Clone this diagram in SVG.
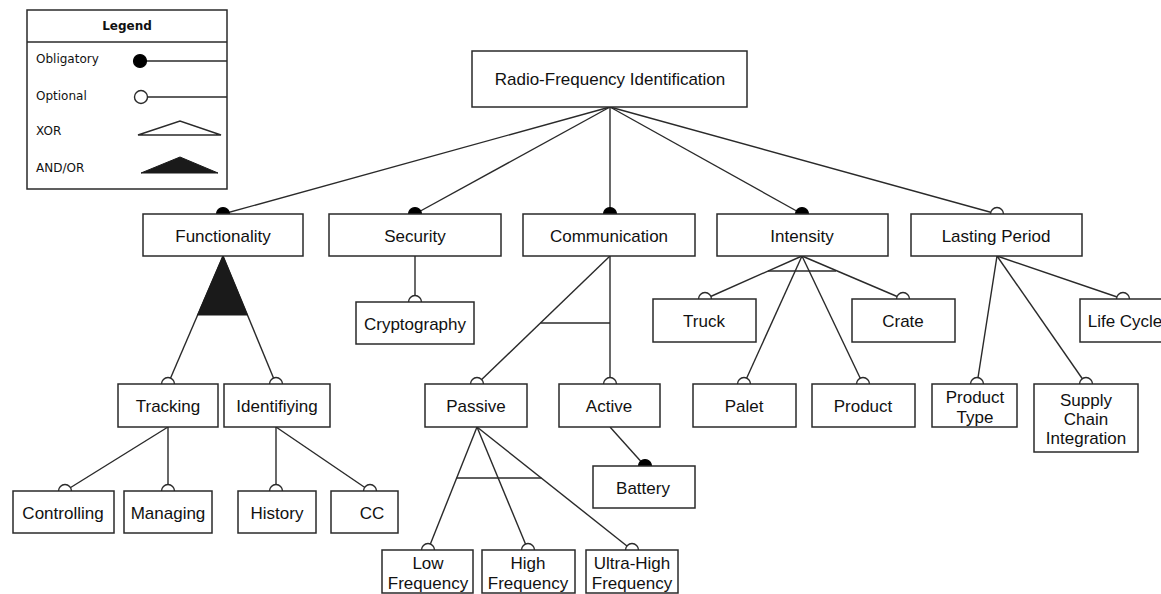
<svg xmlns="http://www.w3.org/2000/svg" width="1161" height="594" viewBox="0 0 1161 594">
  <style>
    .box { fill: #fff; stroke: #2a2a2a; stroke-width: 1.5; }
    .lbl { font-family: "Liberation Sans", Arial, sans-serif; font-size: 17px; fill: #111; text-anchor: middle; }
    .leg { font-family: "DejaVu Sans", Verdana, sans-serif; font-size: 12px; fill: #111; }
    .leg-title { font-family: "DejaVu Sans", Verdana, sans-serif; font-size: 12px; font-weight: bold; fill: #111; text-anchor: middle; }
    .edge { stroke: #2a2a2a; stroke-width: 1.4; fill: none; }
    .opt { fill: #fff; stroke: #2a2a2a; stroke-width: 1.4; }
    .obl { fill: #000; stroke: #000; stroke-width: 1.2; }
    .andor { fill: #1a1a1a; stroke: #1a1a1a; stroke-width: 1; }
  </style>

  <rect width="1161" height="594" fill="#fff"/>

  <!-- Legend -->
  <g id="legend">
    <rect class="box" x="27" y="10" width="200" height="179"/>
    <line class="edge" x1="27" y1="42" x2="227" y2="42"/>
    <text class="leg-title" x="127" y="30">Legend</text>
    <text class="leg" x="36" y="63">Obligatory</text>
    <line class="edge" x1="140" y1="61" x2="227" y2="61"/>
    <circle class="obl" cx="140" cy="61" r="6.5"/>
    <text class="leg" x="36" y="100">Optional</text>
    <line class="edge" x1="140" y1="97" x2="227" y2="97"/>
    <circle class="opt" cx="141" cy="97" r="6.5"/>
    <text class="leg" x="36" y="135">XOR</text>
    <polygon class="edge" points="138,135 180,121 221,135"/>
    <text class="leg" x="36" y="172">AND/OR</text>
    <polygon class="andor" points="141,173 180,157 218,173"/>
  </g>

  <!-- Connectors -->
  <g id="connectors">
    <!-- root to first level -->
    <line class="edge" x1="610" y1="107" x2="223" y2="214"/>
    <line class="edge" x1="610" y1="107" x2="415" y2="214"/>
    <line class="edge" x1="610" y1="107" x2="610" y2="214"/>
    <line class="edge" x1="610" y1="107" x2="802" y2="214"/>
    <line class="edge" x1="610" y1="107" x2="997" y2="214"/>
    <circle class="obl" cx="223" cy="214" r="6.5"/>
    <circle class="obl" cx="415" cy="214" r="6.5"/>
    <circle class="obl" cx="610" cy="214" r="6.5"/>
    <circle class="obl" cx="802" cy="214" r="6.5"/>
    <circle class="opt" cx="997" cy="214" r="6.5"/>

    <!-- Functionality (AND/OR) -->
    <line class="edge" x1="223" y1="256" x2="168" y2="384"/>
    <line class="edge" x1="223" y1="256" x2="276" y2="384"/>
    <polygon class="andor" points="223,256 197.6,315 247.4,315"/>
    <circle class="opt" cx="168" cy="384" r="6.5"/>
    <circle class="opt" cx="276" cy="384" r="6.5"/>

    <!-- Tracking -->
    <line class="edge" x1="168" y1="427" x2="65" y2="491"/>
    <line class="edge" x1="168" y1="427" x2="168" y2="491"/>
    <circle class="opt" cx="65" cy="491" r="6.5"/>
    <circle class="opt" cx="168" cy="491" r="6.5"/>

    <!-- Identifiying -->
    <line class="edge" x1="276" y1="427" x2="276" y2="491"/>
    <line class="edge" x1="276" y1="427" x2="370" y2="491"/>
    <circle class="opt" cx="276" cy="491" r="6.5"/>
    <circle class="opt" cx="370" cy="491" r="6.5"/>

    <!-- Security -->
    <line class="edge" x1="415" y1="256" x2="415" y2="302"/>
    <circle class="opt" cx="415" cy="302" r="6.5"/>

    <!-- Communication (XOR) -->
    <line class="edge" x1="610" y1="256" x2="477" y2="384"/>
    <line class="edge" x1="610" y1="256" x2="610" y2="384"/>
    <line class="edge" x1="540.4" y1="323" x2="610" y2="323"/>
    <circle class="opt" cx="477" cy="384" r="6.5"/>
    <circle class="opt" cx="610" cy="384" r="6.5"/>

    <!-- Active -->
    <line class="edge" x1="610" y1="427" x2="645" y2="466"/>
    <circle class="obl" cx="645" cy="466" r="6.5"/>

    <!-- Passive (XOR) -->
    <line class="edge" x1="477" y1="427" x2="428" y2="550"/>
    <line class="edge" x1="477" y1="427" x2="528" y2="550"/>
    <line class="edge" x1="477" y1="427" x2="632" y2="550"/>
    <line class="edge" x1="456.7" y1="478" x2="541.3" y2="478"/>
    <circle class="opt" cx="428" cy="550" r="6.5"/>
    <circle class="opt" cx="528" cy="550" r="6.5"/>
    <circle class="opt" cx="632" cy="550" r="6.5"/>

    <!-- Intensity (XOR) -->
    <line class="edge" x1="802" y1="256" x2="705" y2="299"/>
    <line class="edge" x1="802" y1="256" x2="744" y2="384"/>
    <line class="edge" x1="802" y1="256" x2="863" y2="384"/>
    <line class="edge" x1="802" y1="256" x2="903" y2="299"/>
    <line class="edge" x1="768" y1="271" x2="836" y2="271"/>
    <circle class="opt" cx="705" cy="299" r="6.5"/>
    <circle class="opt" cx="744" cy="384" r="6.5"/>
    <circle class="opt" cx="863" cy="384" r="6.5"/>
    <circle class="opt" cx="903" cy="299" r="6.5"/>

    <!-- Lasting Period -->
    <line class="edge" x1="997" y1="256" x2="977" y2="384"/>
    <line class="edge" x1="997" y1="256" x2="1086" y2="384"/>
    <line class="edge" x1="997" y1="256" x2="1123" y2="299"/>
    <circle class="opt" cx="977" cy="384" r="6.5"/>
    <circle class="opt" cx="1086" cy="384" r="6.5"/>
    <circle class="opt" cx="1123" cy="299" r="6.5"/>
  </g>

  <!-- Nodes -->
  <g id="rfid">
    <rect class="box" x="472" y="51" width="275" height="56"/>
    <text class="lbl" x="610" y="85">Radio-Frequency Identification</text>
  </g>

  <g id="functionality">
    <rect class="box" x="143" y="214" width="160" height="42"/>
    <text class="lbl" x="223" y="242">Functionality</text>
  </g>
  <g id="security">
    <rect class="box" x="329" y="214" width="172" height="42"/>
    <text class="lbl" x="415" y="242">Security</text>
  </g>
  <g id="communication">
    <rect class="box" x="523" y="214" width="172" height="42"/>
    <text class="lbl" x="609" y="242">Communication</text>
  </g>
  <g id="intensity">
    <rect class="box" x="717" y="214" width="171" height="42"/>
    <text class="lbl" x="802" y="242">Intensity</text>
  </g>
  <g id="lasting-period">
    <rect class="box" x="911" y="214" width="171" height="42"/>
    <text class="lbl" x="996" y="242">Lasting Period</text>
  </g>

  <g id="tracking">
    <rect class="box" x="118" y="384" width="100" height="43"/>
    <text class="lbl" x="168" y="412">Tracking</text>
  </g>
  <g id="identifiying">
    <rect class="box" x="224" y="384" width="106" height="43"/>
    <text class="lbl" x="277" y="412">Identifiying</text>
  </g>
  <g id="controlling">
    <rect class="box" x="13" y="491" width="101" height="42"/>
    <text class="lbl" x="63" y="519">Controlling</text>
  </g>
  <g id="managing">
    <rect class="box" x="124" y="491" width="88" height="42"/>
    <text class="lbl" x="168" y="519">Managing</text>
  </g>
  <g id="history">
    <rect class="box" x="238" y="491" width="78" height="42"/>
    <text class="lbl" x="277" y="519">History</text>
  </g>
  <g id="cc">
    <rect class="box" x="331" y="491" width="67" height="42"/>
    <text class="lbl" x="372" y="519">CC</text>
  </g>

  <g id="cryptography">
    <rect class="box" x="356" y="302" width="118" height="42"/>
    <text class="lbl" x="415" y="330">Cryptography</text>
  </g>

  <g id="passive">
    <rect class="box" x="425" y="384" width="102" height="43"/>
    <text class="lbl" x="476" y="412">Passive</text>
  </g>
  <g id="active">
    <rect class="box" x="559" y="384" width="101" height="43"/>
    <text class="lbl" x="609" y="412">Active</text>
  </g>
  <g id="battery">
    <rect class="box" x="593" y="466" width="102" height="42"/>
    <text class="lbl" x="643" y="494">Battery</text>
  </g>
  <g id="low-frequency">
    <rect class="box" x="382" y="550" width="91" height="43"/>
    <text class="lbl" x="428" y="569">Low</text>
    <text class="lbl" x="428" y="589">Frequency</text>
  </g>
  <g id="high-frequency">
    <rect class="box" x="482" y="550" width="93" height="43"/>
    <text class="lbl" x="528" y="569">High</text>
    <text class="lbl" x="528" y="589">Frequency</text>
  </g>
  <g id="ultra-high-frequency">
    <rect class="box" x="586" y="550" width="92" height="43"/>
    <text class="lbl" x="632" y="569">Ultra-High</text>
    <text class="lbl" x="632" y="589">Frequency</text>
  </g>

  <g id="truck">
    <rect class="box" x="653" y="299" width="103" height="43"/>
    <text class="lbl" x="704" y="327">Truck</text>
  </g>
  <g id="crate">
    <rect class="box" x="852" y="299" width="103" height="43"/>
    <text class="lbl" x="903" y="327">Crate</text>
  </g>
  <g id="palet">
    <rect class="box" x="693" y="384" width="103" height="43"/>
    <text class="lbl" x="744" y="412">Palet</text>
  </g>
  <g id="product">
    <rect class="box" x="812" y="384" width="103" height="43"/>
    <text class="lbl" x="863" y="412">Product</text>
  </g>

  <g id="life-cycle">
    <rect class="box" x="1080" y="299" width="90" height="43"/>
    <text class="lbl" x="1125" y="327">Life Cycle</text>
  </g>
  <g id="product-type">
    <rect class="box" x="932" y="384" width="85" height="43"/>
    <text class="lbl" x="975" y="403">Product</text>
    <text class="lbl" x="975" y="423">Type</text>
  </g>
  <g id="supply-chain-integration">
    <rect class="box" x="1034" y="384" width="104" height="68"/>
    <text class="lbl" x="1086" y="406">Supply</text>
    <text class="lbl" x="1086" y="425">Chain</text>
    <text class="lbl" x="1086" y="444">Integration</text>
  </g>
</svg>
